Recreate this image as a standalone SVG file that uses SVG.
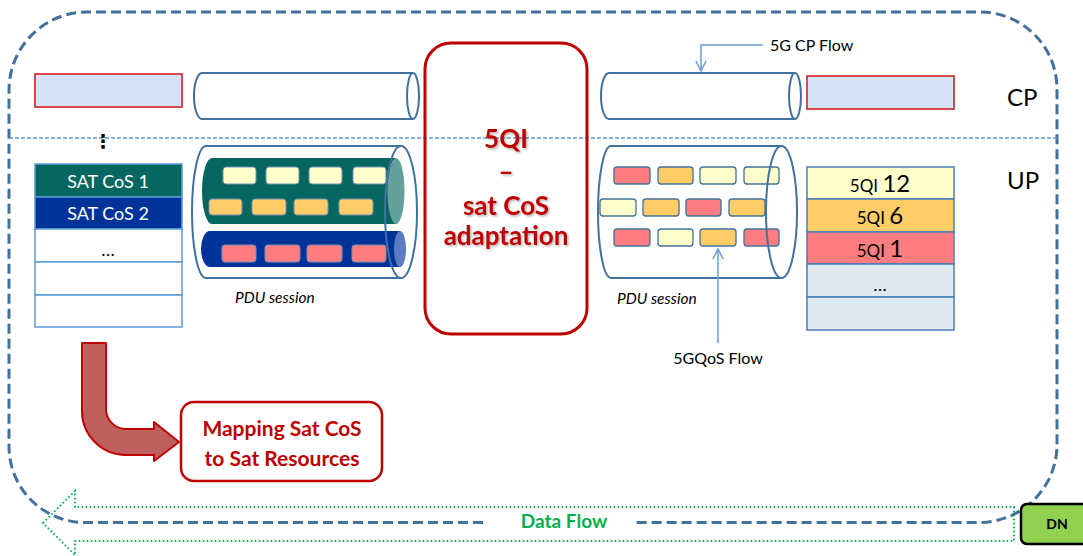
<svg xmlns="http://www.w3.org/2000/svg" width="1083" height="556" viewBox="0 0 1083 556">
<style>
.t{font-family:Lato,"Liberation Sans",sans-serif}
.cyl{fill:#fff;stroke:#41719C;stroke-width:2}
.cap{fill:none;stroke:#41719C;stroke-width:2}
.sb{stroke:#7391B8;stroke-width:1}
.sr{stroke:#41719C;stroke-width:1.3}
.y{fill:#FFFFCC}.o{fill:#FFCC66}.p{fill:#FF7C80}
.call{fill:none;stroke:#6A9BD3;stroke-width:1.5}
.cpbox{fill:#D5E3F5;stroke:#D42222;stroke-width:1.6}
</style>
<defs>
<marker id="va" viewBox="0 0 12 12" refX="11" refY="6" markerWidth="12" markerHeight="12" markerUnits="userSpaceOnUse" orient="auto">
<path d="M1,1 L11,6 L1,11" fill="none" stroke="#6A9BD3" stroke-width="1.5"/>
</marker>
<filter id="sh" x="-20%" y="-20%" width="140%" height="140%">
<feDropShadow dx="1.5" dy="1.5" stdDeviation="1" flood-color="#000" flood-opacity="0.3"/>
</filter>
</defs>

<g id="frame">
<path d="M483,522.5 H85 A76,76 0 0 1 9,446.5 V90 A78,78 0 0 1 87,12 H980 A77,77 0 0 1 1057,89 V447 A78,78 0 0 1 979,522.5 H632" fill="none" stroke="#41719C" stroke-width="3" stroke-dasharray="10,5"/>
<line x1="9" y1="138" x2="1057" y2="138" stroke="#5B9BD5" stroke-width="1.3" stroke-dasharray="4,2"/>
</g>

<g id="dataflow">
<path d="M43,523 L75,491 V507 H1014 V541 H75 V555 Z" fill="none" stroke="#00B050" stroke-width="2" stroke-dasharray="1.5,2.5"/>
<text class="t" x="564" y="528" font-size="19" font-weight="bold" fill="#00B050" text-anchor="middle">Data Flow</text>
</g>

<g id="dn">
<rect x="1021" y="504" width="75" height="40" rx="6" fill="#92D050" stroke="#000" stroke-width="2.5"/>
<text class="t" x="1057" y="529" font-size="14" font-weight="bold" fill="#000" text-anchor="middle">DN</text>
</g>

<g id="labels">
<text class="t" x="1007" y="106" font-size="24" fill="#000">CP</text>
<text class="t" x="1007" y="189" font-size="24" fill="#000">UP</text>
</g>

<g id="left-cp-box"><rect class="cpbox" x="35" y="74" width="147" height="33"/></g>
<g id="left-dots"><text x="103" y="148" font-family="DejaVu Sans,sans-serif" font-size="19" font-weight="bold" text-anchor="middle" fill="#000">⋮</text></g>

<g id="left-stack" stroke="#5B9BD5" stroke-width="1.5">
<rect x="35" y="164" width="147" height="33" fill="#05675F"/>
<rect x="35" y="197" width="147" height="32" fill="#003399"/>
<rect x="35" y="229" width="147" height="33" fill="#fff"/>
<rect x="35" y="262" width="147" height="33" fill="#fff"/>
<rect x="35" y="295" width="147" height="32" fill="#fff"/>
<g stroke="none">
<text class="t" x="108" y="188" font-size="18" fill="#fff" text-anchor="middle">SAT CoS 1</text>
<text class="t" x="108" y="220" font-size="18" fill="#fff" text-anchor="middle">SAT CoS 2</text>
<text class="t" x="108" y="256" font-size="18" fill="#000" text-anchor="middle">…</text>
</g>
</g>

<g id="left-cp-cylinder">
<path class="cyl" d="M413,73 H202 A8,23 0 0 0 202,119 H413"/>
<ellipse class="cap" cx="413" cy="96" rx="6" ry="23"/>
</g>

<g id="left-pdu">
<path class="cyl" d="M401,146 H206 A14,66 0 0 0 206,278 H401"/>
<path d="M396,158 H212 A10,33 0 0 0 212,224 H396 Z" fill="#05675F"/>
<ellipse cx="396" cy="191" rx="8.5" ry="33" fill="#64A19D"/>
<path d="M400,231 H210 A9,18 0 0 0 210,267 H400 Z" fill="#003399"/>
<ellipse cx="400" cy="249" rx="6" ry="18" fill="#5B7CC2"/>
<g class="sb">
<rect class="y" x="223" y="167" width="33" height="17" rx="3"/>
<rect class="y" x="266" y="167" width="33" height="17" rx="3"/>
<rect class="y" x="309" y="167" width="33" height="17" rx="3"/>
<rect class="y" x="353" y="167" width="33" height="17" rx="3"/>
<rect class="o" x="209" y="199" width="33" height="16" rx="3"/>
<rect class="o" x="252" y="199" width="34" height="16" rx="3"/>
<rect class="o" x="294" y="199" width="34" height="16" rx="3"/>
<rect class="o" x="339" y="199" width="34" height="16" rx="3"/>
<rect class="p" x="222" y="245" width="34" height="17" rx="3"/>
<rect class="p" x="265" y="245" width="35" height="17" rx="3"/>
<rect class="p" x="307" y="245" width="35" height="17" rx="3"/>
<rect class="p" x="352" y="245" width="34" height="17" rx="3"/>
</g>
<ellipse class="cap" cx="401" cy="212" rx="16" ry="66"/>
<text class="t" x="235" y="303" font-size="15.5" font-style="italic" fill="#000">PDU session</text>
</g>

<g id="adaptation">
<rect x="425" y="43" width="162" height="291" rx="26" fill="none" stroke="#C00000" stroke-width="3"/>
<g filter="url(#sh)" class="t" font-weight="bold" font-size="26" fill="#C00000" text-anchor="middle">
<text x="506" y="148">5QI</text>
<text x="506" y="181">–</text>
<text x="506" y="215">sat CoS</text>
<text x="506" y="245">adaptation</text>
</g>
</g>

<g id="right-cp-cylinder">
<path class="cyl" d="M795,73 H609 A8,23 0 0 0 609,119 H795"/>
<ellipse class="cap" cx="795" cy="96" rx="6" ry="23"/>
</g>

<g id="right-cp-box"><rect class="cpbox" x="807" y="76" width="147" height="33"/></g>

<g id="right-pdu">
<path class="cyl" d="M781,146 H611 A13,66 0 0 0 611,278 H781"/>
<g class="sr">
<rect class="p" x="614" y="167" width="36" height="17" rx="3"/>
<rect class="o" x="658" y="167" width="35" height="17" rx="3"/>
<rect class="y" x="700" y="167" width="36" height="17" rx="3"/>
<rect class="y" x="744" y="167" width="35" height="17" rx="3"/>
<rect class="y" x="600" y="199" width="36" height="17" rx="3"/>
<rect class="o" x="643" y="199" width="36" height="17" rx="3"/>
<rect class="p" x="686" y="199" width="35" height="17" rx="3"/>
<rect class="o" x="729" y="199" width="36" height="17" rx="3"/>
<rect class="p" x="614" y="229" width="36" height="17" rx="3"/>
<rect class="y" x="658" y="229" width="35" height="17" rx="3"/>
<rect class="o" x="700" y="229" width="36" height="17" rx="3"/>
<rect class="p" x="744" y="229" width="35" height="17" rx="3"/>
</g>
<ellipse class="cap" cx="781.5" cy="212" rx="15.5" ry="66"/>
<text class="t" x="617" y="304" font-size="15.5" font-style="italic" fill="#000">PDU session</text>
</g>

<g id="right-stack" stroke="#4A7EBB" stroke-width="1.5">
<rect x="807" y="167" width="147" height="32" fill="#FFFFCC"/>
<rect x="807" y="199" width="147" height="33" fill="#FFCC66"/>
<rect x="807" y="232" width="147" height="32" fill="#FF7C80"/>
<rect x="807" y="264" width="147" height="33" fill="#DEEAF0"/>
<rect x="807" y="297" width="147" height="33" fill="#DEEAF0"/>
<g stroke="none" class="t" fill="#000" text-anchor="middle">
<text x="880" y="192"><tspan font-size="17">5QI </tspan><tspan font-size="24">12</tspan></text>
<text x="880" y="224"><tspan font-size="17">5QI </tspan><tspan font-size="24">6</tspan></text>
<text x="880" y="257"><tspan font-size="17">5QI </tspan><tspan font-size="24">1</tspan></text>
<text x="880" y="291" font-size="18">…</text>
</g>
</g>

<g id="callouts">
<path class="call" d="M763,45 H701 V71" marker-end="url(#va)"/>
<text class="t" x="770" y="51" font-size="16" fill="#000">5G CP Flow</text>
<path class="call" d="M718,343 V249" marker-end="url(#va)"/>
<text class="t" x="718" y="364" font-size="16" fill="#000" text-anchor="middle">5GQoS Flow</text>
</g>

<g id="mapping-arrow">
<path d="M82,343 H106 V409 A20,20 0 0 0 126,429 H154 V422 L179,442 L154,461 V455 H126 A44,44 0 0 1 82,411 Z" fill="#C0605E" stroke="#C00000" stroke-width="2" stroke-linejoin="round"/>
</g>

<g id="mapping-box">
<rect x="181" y="402" width="201" height="79" rx="13" fill="#fff" stroke="#C00000" stroke-width="2.5"/>
<text class="t" x="282" y="436" font-size="21" font-weight="bold" fill="#C00000" text-anchor="middle">Mapping Sat CoS</text>
<text class="t" x="282" y="466" font-size="21" font-weight="bold" fill="#C00000" text-anchor="middle">to Sat Resources</text>
</g>
</svg>
